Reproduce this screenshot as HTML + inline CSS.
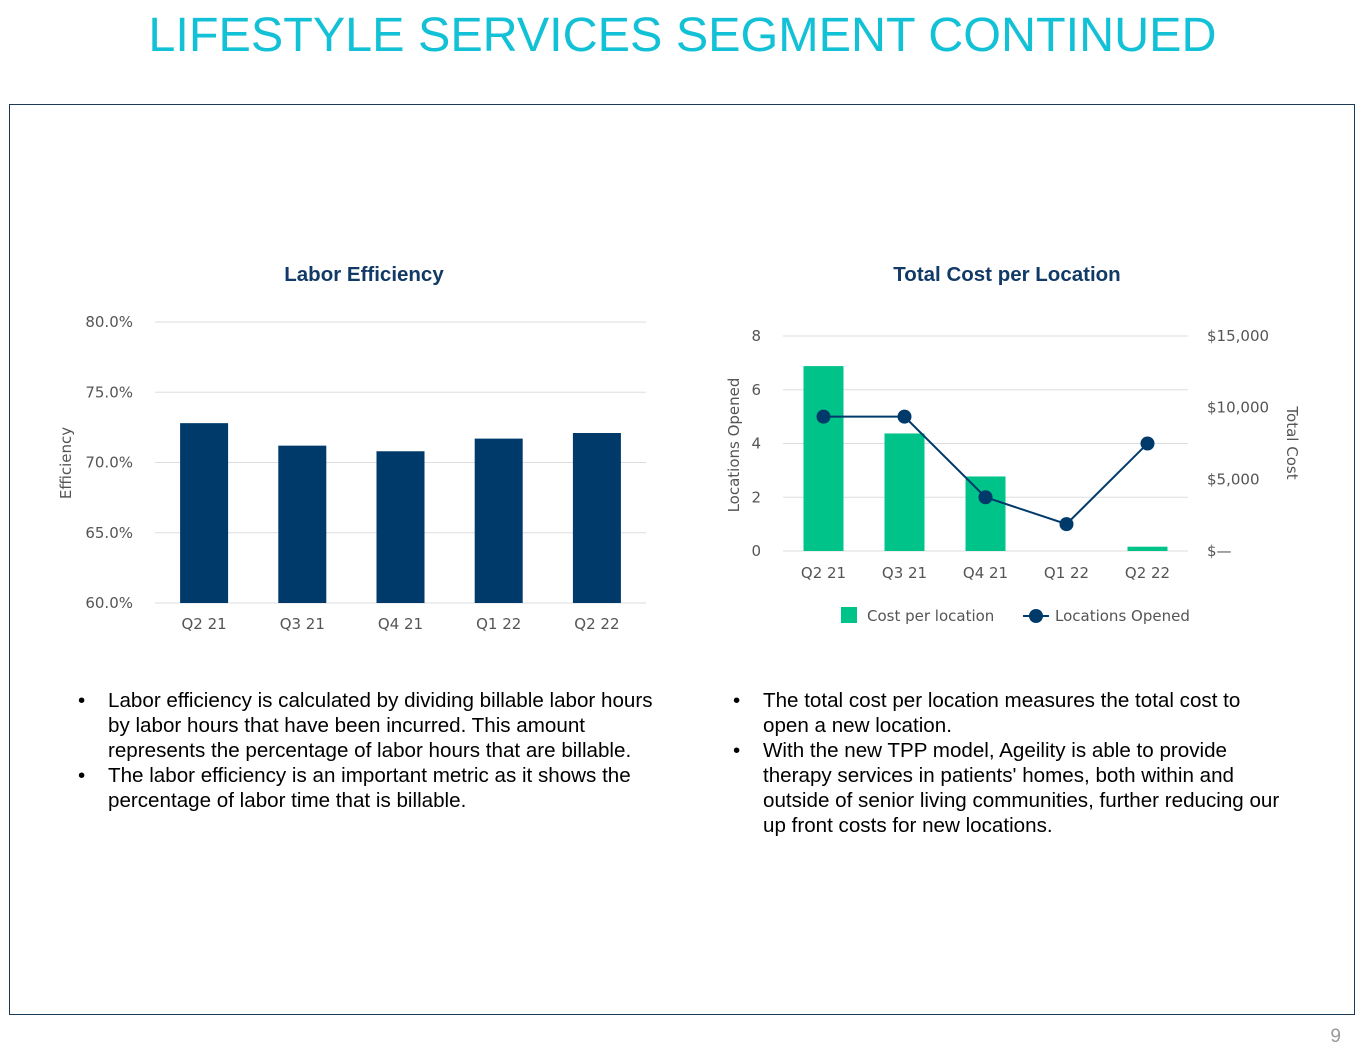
<!DOCTYPE html>
<html><head><meta charset="utf-8"><style>
body{margin:0;width:1365px;height:1055px;background:#fff;position:relative;font-family:"Liberation Sans",sans-serif;overflow:hidden}
.title{position:absolute;left:0;width:1365px;top:7px;text-align:center;color:#13c1d6;font-size:48.5px}
.frame{position:absolute;left:9px;top:104px;width:1346px;height:911px;border:1.5px solid #1b3a57;box-sizing:border-box}
.bul{position:absolute;font-size:20.6px;line-height:25px;color:#000;white-space:nowrap}
.bul div{position:relative;padding-left:30px}
.bul div:before{content:"•";position:absolute;left:0}
.pg{position:absolute;right:24px;top:1026px;color:#999;font-size:19px}
svg text{font-family:"DejaVu Sans",sans-serif}
</style></head><body>
<div class="title">LIFESTYLE SERVICES SEGMENT CONTINUED</div>
<div class="frame"></div>
<svg id="c" width="1365" height="1055" style="position:absolute;left:0;top:0"></svg>
<div class="bul" style="left:78px;top:688px;width:600px">
<div>Labor efficiency is calculated by dividing billable labor hours<br>by labor hours that have been incurred. This amount<br>represents the percentage of labor hours that are billable.</div>
<div>The labor efficiency is an important metric as it shows the<br>percentage of labor time that is billable.</div></div>
<div class="bul" style="left:733px;top:688px;width:580px">
<div>The total cost per location measures the total cost to<br>open a new location.</div>
<div>With the new TPP model, Ageility is able to provide<br>therapy services in patients' homes, both within and<br>outside of senior living communities, further reducing our<br>up front costs for new locations.</div></div>
<div class="pg">9</div>
<script>
const categories=["Q2 21","Q3 21","Q4 21","Q1 22","Q2 22"];
const efficiency=[72.8,71.2,70.8,71.7,72.1];
const effTicks=[60,65,70,75,80];
const costPerLocation=[12900,8200,5200,0,300];
const locationsOpened=[5,5,2,1,4];
const locTicks=[0,2,4,6,8];
const costTicks=[0,5000,10000,15000];
const costTickLabels=["$—","$5,000","$10,000","$15,000"];
const svg=document.getElementById('c');const NS="http://www.w3.org/2000/svg";
function el(t,a,txt){const e=document.createElementNS(NS,t);for(const k in a)e.setAttribute(k,a[k]);if(txt!==undefined)e.textContent=txt;svg.appendChild(e);return e;}
const FS=15;
const lx0=155,lx1=646,ly0=603,ly1=322;
const ly=v=>ly0-(v-60)/20*(ly0-ly1);const lbw=(lx1-lx0)/categories.length;const lxc=i=>lx0+lbw*(i+0.5);
let t=el('text',{x:364,y:281,'text-anchor':'middle','font-size':20.5,'font-weight':'bold',fill:'#123a66',style:'font-family:Liberation Sans'},'Labor Efficiency');

effTicks.forEach(v=>{let g=el('line',{x1:lx0,x2:lx1,y1:ly(v),y2:ly(v),stroke:'#ddd'});
let l=el('text',{x:133,y:ly(v)+5,'text-anchor':'end','font-size':FS,fill:'#555'},v.toFixed(1)+'%');});
t=el('text',{x:0,y:0,transform:'translate(71,463) rotate(-90)','text-anchor':'middle','font-size':FS,fill:'#555'},'Efficiency');
efficiency.forEach((v,i)=>{let b=el('rect',{x:lxc(i)-24,y:ly(v),width:48,height:ly0-ly(v),fill:'#003a6a'});
let l=el('text',{x:lxc(i),y:629,'text-anchor':'middle','font-size':FS,fill:'#555'},categories[i]);});
const rx0=783,rx1=1188,ry0=551,ry1=336;
const yl=v=>ry0-v/8*(ry0-ry1);const yr=v=>ry0-v/15000*(ry0-ry1);const rbw=(rx1-rx0)/categories.length;const rxc=i=>rx0+rbw*(i+0.5);
t=el('text',{x:1007,y:281,'text-anchor':'middle','font-size':20.5,'font-weight':'bold',fill:'#123a66',style:'font-family:Liberation Sans'},'Total Cost per Location');
locTicks.forEach(v=>{let g=el('line',{x1:rx0,x2:rx1,y1:yl(v),y2:yl(v),stroke:'#ddd'});
let l=el('text',{x:761,y:yl(v)+5,'text-anchor':'end','font-size':FS,fill:'#555'},String(v));});
costTicks.forEach((v,i)=>{let l=el('text',{x:1207,y:yr(v)+5,'font-size':FS,fill:'#555'},costTickLabels[i]);});
t=el('text',{x:0,y:0,transform:'translate(739,445) rotate(-90)','text-anchor':'middle','font-size':FS,fill:'#555'},'Locations Opened');
t=el('text',{x:0,y:0,transform:'translate(1287,443) rotate(90)','text-anchor':'middle','font-size':FS,fill:'#555'},'Total Cost');
costPerLocation.forEach((v,i)=>{let b=el('rect',{x:rxc(i)-20,y:yr(v),width:40,height:ry0-yr(v),fill:'#00c389'});
let l=el('text',{x:rxc(i),y:578,'text-anchor':'middle','font-size':FS,fill:'#555'},categories[i]);});
let p=el('polyline',{points:locationsOpened.map((v,i)=>rxc(i)+','+yl(v)).join(' '),fill:'none',stroke:'#003a6a','stroke-width':2});
locationsOpened.forEach((v,i)=>{let c=el('circle',{cx:rxc(i),cy:yl(v),r:7,fill:'#003a6a'});});
let r=el('rect',{x:841,y:607,width:16,height:16,fill:'#00c389'});
t=el('text',{x:867,y:621,'font-size':FS,fill:'#555'},'Cost per location');
r=el('line',{x1:1023,x2:1049,y1:616,y2:616,stroke:'#003a6a','stroke-width':2});
r=el('circle',{cx:1036,cy:616,r:7,fill:'#003a6a'});
t=el('text',{x:1055,y:621,'font-size':FS,fill:'#555'},'Locations Opened');
</script>
</body></html>
